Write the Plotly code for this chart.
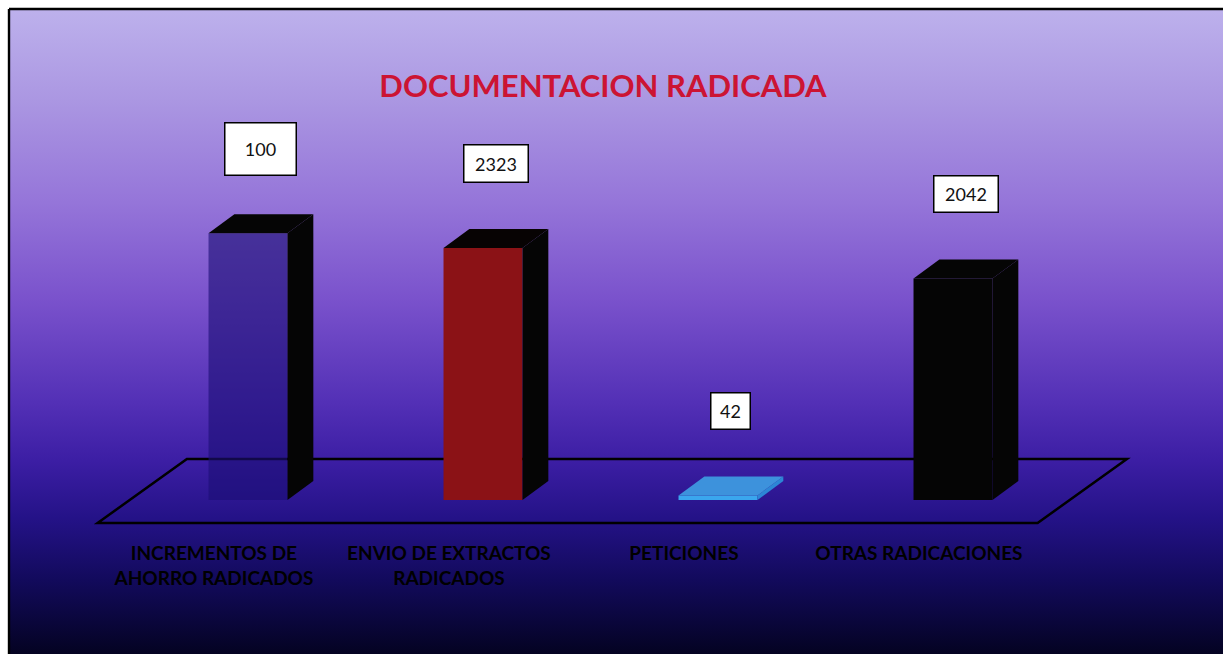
import base64
import plotly.graph_objects as go

# ---------------- data ----------------
categories = [
    "INCREMENTOS DE<br>AHORRO RADICADOS",
    "ENVIO DE EXTRACTOS<br>RADICADOS",
    "PETICIONES",
    "OTRAS RADICACIONES",
]
bar_heights = [2460, 2323, 42, 2042]      # drawn bar heights (as seen in picture)
label_values = [100, 2323, 42, 2042]       # values printed in the label boxes
title_text = "DOCUMENTACION RADICADA"

# ---------------- styling ----------------
front_colors = ["rgba(28,14,118,0.62)", "#8b1216", "#3aa6ee", "#050505"]
side_colors = ["#050505", "#050505", "#2c86d6", "#050505"]
top_colors = ["#050505", "#070303", "#3d92dc", "#050505"]
label_box_w = [70, 63, 38, 63]
label_box_h = [51, 36, 35, 35]

W, H = 1223, 654
FRAME = 9               # white margin before the framed chart area (px)
BAR_W = 0.336           # category units
DEPTH_X = 0.11          # 3D depth offset, category units
DEPTH_Y = 175           # 3D depth offset, value units
LABEL_GAP = 600         # value units above back-top edge
FLOOR_FRONT = (-0.14, -212)
FLOOR_BACK = (0.24, 378)
LABEL_SHIFT = -0.145
K = 2323 / 252          # value units per pixel
BASE_PX = 500           # pixel row of value 0
PX_PER_CAT = 235
FIRST_PX = 248          # pixel column of the first category
X_RANGE = [-FIRST_PX / PX_PER_CAT, (W - FIRST_PX) / PX_PER_CAT]
Y_RANGE = [-(H - BASE_PX) * K, BASE_PX * K]

xs = list(range(len(categories)))

fig = go.Figure()

# front faces
fig.add_trace(go.Bar(
    x=xs, y=bar_heights, width=BAR_W,
    marker=dict(color=front_colors, line=dict(width=0)),
    hoverinfo="skip", showlegend=False,
))

# side and top faces
for i, h in enumerate(bar_heights):
    xl, xr = xs[i] - BAR_W / 2, xs[i] + BAR_W / 2
    fig.add_trace(go.Scatter(
        x=[xr, xr + DEPTH_X, xr + DEPTH_X, xr, xr],
        y=[0, DEPTH_Y, h + DEPTH_Y, h, 0],
        fill="toself", fillcolor=side_colors[i], mode="lines",
        line=dict(width=0), hoverinfo="skip", showlegend=False,
    ))
    fig.add_trace(go.Scatter(
        x=[xl, xl + DEPTH_X, xr + DEPTH_X, xr, xl],
        y=[h, h + DEPTH_Y, h + DEPTH_Y, h, h],
        fill="toself", fillcolor=top_colors[i], mode="lines",
        line=dict(width=0), hoverinfo="skip", showlegend=False,
    ))

# value label boxes
for i, (h, v) in enumerate(zip(bar_heights, label_values)):
    fig.add_annotation(
        x=xs[i] + DEPTH_X / 2, y=h + DEPTH_Y + LABEL_GAP,
        xref="x", yref="y", text=str(v), showarrow=False,
        font=dict(family="Lato, Open Sans, sans-serif", size=18, color="#111111"),
        bgcolor="#ffffff", bordercolor="#000000", borderwidth=1.5, borderpad=0,
        width=label_box_w[i], height=label_box_h[i],
        xanchor="center", yanchor="middle", align="center", valign="middle",
    )

# floor (outline only)
n = len(categories)
fx0, fx1 = -0.5, n - 0.5
floor_path = (
    f"M {fx0 + FLOOR_FRONT[0]},{FLOOR_FRONT[1]} "
    f"L {fx1 + FLOOR_FRONT[0]},{FLOOR_FRONT[1]} "
    f"L {fx1 + FLOOR_BACK[0]},{FLOOR_BACK[1]} "
    f"L {fx0 + FLOOR_BACK[0]},{FLOOR_BACK[1]} Z"
)
fig.add_shape(type="path", path=floor_path, xref="x", yref="y",
              line=dict(color="#000000", width=2.5), fillcolor="rgba(0,0,0,0)",
              layer="below")

# gradient background (SVG data URI)
stops = [
    (0.00, "#bdb1ec"), (0.14, "#ab97e2"), (0.30, "#9575d9"),
    (0.45, "#7a52cc"), (0.61, "#5330b6"), (0.70, "#3c1ea4"),
    (0.79, "#241287"), (0.885, "#120a5c"), (1.00, "#040322"),
]
stop_xml = "".join(f'<stop offset="{o}" stop-color="{c}"/>' for o, c in stops)
svg = (
    '<svg xmlns="http://www.w3.org/2000/svg" width="1214" height="645" '
    'viewBox="0 0 100 100" preserveAspectRatio="none">'
    f'<defs><linearGradient id="g" x1="0" y1="0" x2="0" y2="1">{stop_xml}</linearGradient></defs>'
    '<rect x="0" y="0" width="100" height="100" fill="url(#g)"/></svg>'
)
uri = "data:image/svg+xml;base64," + base64.b64encode(svg.encode()).decode()
fx, fy = FRAME / W, FRAME / H
fig.add_layout_image(dict(
    source=uri, xref="paper", yref="paper", x=fx, y=1 - fy,
    sizex=1 - fx, sizey=1 - fy, xanchor="left", yanchor="top",
    sizing="stretch", layer="below",
))

# frame lines (top and left)
fig.add_shape(type="line", xref="paper", yref="paper", x0=fx, x1=1, y0=1 - fy, y1=1 - fy,
              line=dict(color="#000000", width=2.4))
fig.add_shape(type="line", xref="paper", yref="paper", x0=fx, x1=fx, y0=0, y1=1 - fy,
              line=dict(color="#000000", width=2.4))

fig.update_layout(
    width=W, height=H,
    margin=dict(l=0, r=0, t=0, b=0, pad=0),
    paper_bgcolor="#ffffff", plot_bgcolor="rgba(0,0,0,0)",
    title=dict(text=f"<b>{title_text}</b>", x=603 / W, xanchor="center",
               y=1 - 86 / H, yanchor="middle",
               font=dict(family="Lato, Open Sans, sans-serif", size=31, color="#cc1433")),
    xaxis=dict(range=X_RANGE, showgrid=False, zeroline=False, showline=False,
               tickmode="array", tickvals=[x + LABEL_SHIFT for x in xs],
               ticktext=[f"<b>{c}</b>" for c in categories], ticks="",
               tickfont=dict(family="Lato, Open Sans, sans-serif", size=19, color="#000000"),
               anchor="free", position=(H - 540) / H, fixedrange=True),
    yaxis=dict(range=Y_RANGE, visible=False, showgrid=False, zeroline=False, fixedrange=True),
    showlegend=False,
)

fig.write_html(
    "out.html",
    config={"displayModeBar": False},
    post_script="document.body.style.margin='0';document.body.style.overflow='hidden';",
)
